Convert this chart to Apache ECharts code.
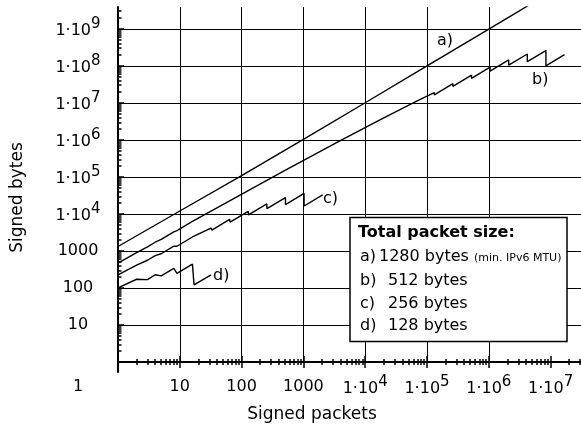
<!DOCTYPE html>
<html>
<head>
<meta charset="utf-8">
<script src="https://cdn.jsdelivr.net/npm/echarts@6/dist/echarts.min.js"></script>
<style>
html, body { margin: 0; padding: 0; background: #fff; }
#chart { width: 581px; height: 430px; }
</style>
</head>
<body>
<div id="chart"></div>
<script>
// signed bytes vs signed packets, one pair of arrays per packet size
// a) 1280 bytes
var aPackets = [1, 10, 100, 1000, 1e4, 1e5, 1e6, 1e7];
var aBytes = [1320, 12000, 108000, 1040000, 10100000, 100000000, 990000000, 9800000000];
// b) 512 bytes
var bPackets = [1, 2, 3, 4, 5, 8, 9, 16, 17, 32, 33, 64, 65, 128, 129, 256, 257, 512, 513, 1024,
    1025, 2048, 2049, 4096, 4097, 8192, 8193, 16384, 16385, 32768, 32769, 65536, 65537, 131072,
    131073, 262144, 262145, 524288, 524289, 1048576, 1048577, 2097152, 2097153, 4194304,
    4194305, 8388608, 8388609, 16777216];
var bBytes = [468, 898, 1290, 1720, 2055, 3288, 3528, 6272, 6341, 11936, 11682, 22656, 21775, 42880,
    40764, 80896, 76329, 152064, 142614, 284672, 265475, 530432, 491760, 983040, 905437, 1810432,
    1654986, 3309568, 2998455, 5996544, 5374116, 10747904, 9502865, 19005440, 16515198, 33030144,
    28049515, 56098816, 46137432, 92274688, 72351813, 144703488, 104857650, 209715200,
    130023455, 260046848, 100663308, 201326592];
// c) 256 bytes
var cPackets = [1, 2, 3, 4, 5, 8, 9, 16, 17, 32, 33, 64, 65, 128, 129, 256, 257, 512, 513, 1024, 1025, 2048];
var cBytes = [225, 412, 561, 748, 840, 1344, 1341, 2384, 2210, 4160, 3663, 7104, 5980, 11776, 9417,
    18688, 13878, 27648, 17955, 35840, 16400, 32768];
// d) 128 bytes
var dPackets = [1, 2, 3, 4, 5, 8, 9, 16, 17, 32];
var dBytes = [100, 172, 168, 228, 212, 340, 248, 440, 122, 225];

// axis ticks and labels
var xTickValues = [1, 10, 100, 1000, 1e4, 1e5, 1e6, 1e7];
var xTickLabels = ['1', '10', '100', '1000', '1·10^4', '1·10^5', '1·10^6', '1·10^7'];
var yTickValues = [10, 100, 1000, 1e4, 1e5, 1e6, 1e7, 1e8, 1e9];
var yTickLabels = ['10', '100', '1000', '1·10^4', '1·10^5', '1·10^6', '1·10^7', '1·10^8', '1·10^9'];
var yMajorTicks = [1, 10, 100, 1000, 1e4, 1e5, 1e6, 1e7, 1e8, 1e9];
var xName = 'Signed packets';
var yName = 'Signed bytes';

// legend text
var legendTitle = 'Total packet size:';
var legendKeys = ['a)', 'b)', 'c)', 'd)'];
var legendSizes = ['1280 bytes', '512 bytes', '256 bytes', '128 bytes'];
var legendNote = '(min. IPv6 MTU)';

var X_MAX = 3.1e7, Y_MAX = 3.9e9, Y_LINE_MIN = 0.537;
var FONT = '"DejaVu Sans", sans-serif';

function minorTicks(limit) {
    var out = [];
    for (var p = 1; p <= limit; p *= 10) {
        for (var m = 2; m <= 9; m++) {
            if (m * p <= limit) out.push(m * p);
        }
    }
    return out;
}

function pairs(xs, ys) {
    return xs.map(function (x, i) { return [x, ys[i]]; });
}

function richLabel(s) {
    if (s.indexOf('^') >= 0) {
        var parts = s.split('^');
        return '{b|' + parts[0] + '}{s|' + parts[1] + '}';
    }
    return '{p|' + s + '}';
}

function labelFor(values, labels, v, corner) {
    for (var i = 0; i < values.length; i++) {
        if (Math.abs(Math.log10(v / values[i])) < 1e-6) {
            if (corner && i === 0) return '{o|' + labels[0] + '}';
            return richLabel(labels[i]);
        }
    }
    return '';
}

var rich = {
    p: {fontSize: 16, fontFamily: FONT, color: '#000'},
    b: {fontSize: 16, fontFamily: FONT, color: '#000', padding: [4, 0, 0, 0]},
    s: {fontSize: 15, fontFamily: FONT, color: '#000', padding: [0, 0, 10, 0]},
    o: {fontSize: 16, fontFamily: FONT, color: '#000', padding: [0, 80, 0, 0]}
};

var black = {color: '#000', width: 1};

function tickAxisX(values, inside, len) {
    return {
        type: 'log', gridIndex: 0, min: 1, max: X_MAX, position: 'bottom',
        axisLine: {show: false},
        axisTick: {show: true, customValues: values, inside: inside, length: len, lineStyle: {color: '#000', width: 1.5}},
        axisLabel: {show: false},
        splitLine: {show: false}
    };
}

function tickAxisY(values, len, showLine) {
    return {
        type: 'log', gridIndex: 1, min: Y_LINE_MIN, max: Y_MAX, position: 'left',
        axisLine: {show: showLine, lineStyle: {color: '#000', width: 2}},
        axisTick: {show: true, customValues: values, inside: true, length: len, lineStyle: {color: '#000', width: 1.5}},
        axisLabel: {show: false},
        splitLine: {show: false}
    };
}

function lineSeries(name, data) {
    return {
        name: name, type: 'line', xAxisIndex: 0, yAxisIndex: 0,
        data: data, showSymbol: false, symbol: 'none', clip: true, silent: true,
        lineStyle: {color: '#000', width: 1.4}
    };
}

var chart = echarts.init(document.getElementById('chart'));

var legendX = 350, legendY = 217.5, rowY = [257, 280.5, 303.5, 326];
var graphic = [
    {type: 'rect', z: 100, shape: {x: legendX, y: legendY, width: 217, height: 124},
        style: {fill: '#fff', stroke: '#000', lineWidth: 1.5}},
    {type: 'text', z: 101, x: 358, y: 233,
        style: {text: legendTitle, fontSize: 16, fontWeight: 'bold', fontFamily: FONT, fill: '#000', verticalAlign: 'middle'}}
];
legendKeys.forEach(function (k, i) {
    graphic.push({type: 'text', z: 101, x: 360, y: rowY[i],
        style: {text: k, fontSize: 16, fontFamily: FONT, fill: '#000', verticalAlign: 'middle'}});
    graphic.push({type: 'text', z: 101, x: i === 0 ? 379 : 388, y: rowY[i],
        style: {text: legendSizes[i], fontSize: 16, fontFamily: FONT, fill: '#000', verticalAlign: 'middle'}});
});
graphic.push({type: 'text', z: 101, x: 474, y: rowY[0] + 1,
    style: {text: legendNote, fontSize: 11, fontFamily: FONT, fill: '#000', verticalAlign: 'middle'}});

// curve tags
var tagPos = [[437, 40.5], [532, 79.5], [323, 199], [213, 275.5]];
legendKeys.forEach(function (k, i) {
    graphic.push({type: 'text', z: 50, x: tagPos[i][0], y: tagPos[i][1],
        style: {text: k, fontSize: 16, fontFamily: FONT, fill: '#000', verticalAlign: 'middle'}});
});

var option = {
    animation: false,
    backgroundColor: '#fff',
    grid: [
        {left: 118, right: 0, top: 7, bottom: 68},
        {left: 118, right: 0, top: 7, bottom: 58}
    ],
    xAxis: [
        {
            type: 'log', gridIndex: 0, min: 1, max: X_MAX, position: 'bottom',
            axisLine: {show: true, lineStyle: {color: '#000', width: 2}},
            axisTick: {show: true, customValues: xTickValues, inside: false, length: 6, lineStyle: {color: '#000', width: 1.5}},
            axisLabel: {
                show: true, customValues: xTickValues, verticalAlign: 'middle', margin: 25,
                formatter: function (v) { return labelFor(xTickValues, xTickLabels, v, true); },
                rich: rich
            },
            splitLine: {show: true, showMinLine: false, showMaxLine: false, lineStyle: black},
            name: xName, nameLocation: 'middle', nameGap: 44,
            nameTextStyle: {fontSize: 17, fontFamily: FONT, color: '#000', padding: [0, 75, 0, 0]}
        },
        tickAxisX(xTickValues, true, 6),
        tickAxisX(minorTicks(X_MAX), false, 3),
        tickAxisX(minorTicks(X_MAX), true, 3),
        {type: 'value', gridIndex: 1, min: 0, max: 1, show: false}
    ],
    yAxis: [
        {
            type: 'log', gridIndex: 0, min: 1, max: Y_MAX, position: 'left',
            axisLine: {show: false},
            axisTick: {show: false},
            axisLabel: {
                show: true, customValues: yTickValues, align: 'center', margin: 40,
                formatter: function (v) { return labelFor(yTickValues, yTickLabels, v, false); },
                rich: rich
            },
            splitLine: {show: true, showMinLine: false, showMaxLine: false, lineStyle: black},
            name: yName, nameLocation: 'middle', nameGap: 92,
            nameTextStyle: {fontSize: 17, fontFamily: FONT, color: '#000', padding: [0, 26, 0, 0]}
        },
        tickAxisY(yMajorTicks, 6, true),
        tickAxisY(minorTicks(Y_MAX), 3.5, false)
    ],
    series: [
        lineSeries('a', pairs(aPackets, aBytes)),
        lineSeries('b', pairs(bPackets, bBytes)),
        lineSeries('c', pairs(cPackets, cBytes)),
        lineSeries('d', pairs(dPackets, dBytes))
    ],
    graphic: graphic
};

chart.setOption(option);
</script>
</body>
</html>
